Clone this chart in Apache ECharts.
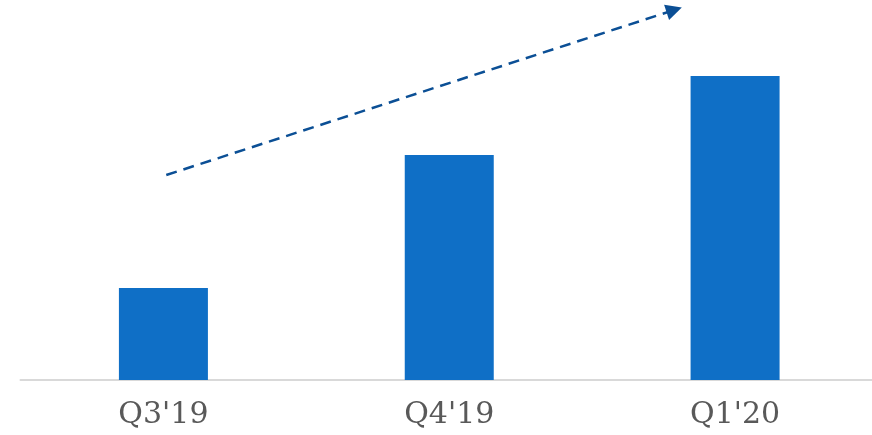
<!DOCTYPE html>
<html>
<head>
<meta charset="utf-8">
<script src="https://cdn.jsdelivr.net/npm/echarts@6/dist/echarts.min.js"></script>
<style>
  html, body { margin: 0; padding: 0; background: #fff; overflow: hidden; }
  #chart { width: 878px; height: 435px; }
</style>
</head>
<body>
<div id="chart"></div>
<script>
// quarters and bar heights (arbitrary units)
const quarters = ["Q3'19", "Q4'19", "Q1'20"];
const values = [92, 225, 304];
// trend arrow: start / end in (category position, value)
const trendStart = [0.01, 205];
const trendEnd = [1.787, 370];

// chart is a little wider than the window: the plot runs past the right edge
const chart = echarts.init(document.getElementById('chart'));

chart.setOption({
  animation: false,
  grid: { left: 20.5, right: 0, top: 0, bottom: 55 },
  xAxis: [{
    type: 'category',
    data: quarters,
    axisLine: { lineStyle: { color: '#d9d9d9', width: 2 } },
    axisTick: { show: false },
    axisLabel: {
      margin: 20,
      fontFamily: 'DejaVu Serif',
      fontSize: 30,
      color: '#595959'
    }
  }, {
    // hidden axis for the trend arrow
    type: 'value',
    min: -0.5,
    max: 2.5,
    show: false
  }],
  yAxis: {
    type: 'value',
    min: 0,
    max: 380,
    show: false,
    splitLine: { show: false }
  },
  series: [{
    type: 'bar',
    data: values,
    barWidth: 89,
    itemStyle: { color: '#0f6fc6' }
  }, {
    type: 'line',
    xAxisIndex: 1,
    data: [],
    markLine: {
      silent: true,
      symbol: ['none', 'triangle'],
      symbolSize: [16, 16],
      label: { show: false },
      lineStyle: { type: [11, 7], width: 2.5, color: '#0b4f95' },
      data: [[{ coord: trendStart }, { coord: trendEnd }]]
    }
  }]
});
</script>
</body>
</html>
